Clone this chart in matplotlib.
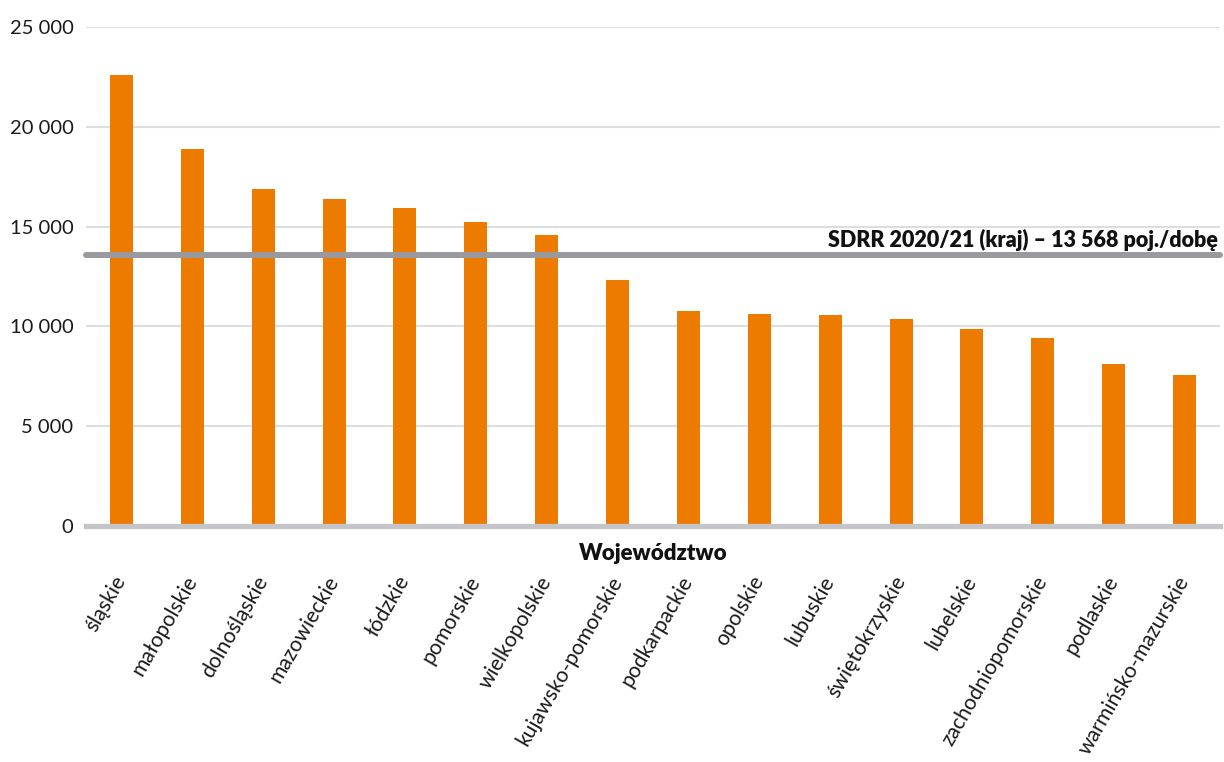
import matplotlib
matplotlib.use("Agg")
import matplotlib.pyplot as plt
from matplotlib.ticker import FuncFormatter

# średnia dobowa wielkość produkcji wg województw
wojewodztwa = [
    "śląskie", "małopolskie", "dolnośląskie", "mazowieckie", "łódzkie",
    "pomorskie", "wielkopolskie", "kujawsko-pomorskie", "podkarpackie",
    "opolskie", "lubuskie", "świętokrzyskie", "lubelskie",
    "zachodniopomorskie", "podlaskie", "warmińsko-mazurskie",
]
wartosci = [
    22600, 18900, 16900, 16400, 15950,
    15250, 14600, 12300, 10750,
    10600, 10550, 10350, 9850,
    9400, 8100, 7550,
]
srednia_kraj = 13568
y_ticks = [0, 5000, 10000, 15000, 20000, 25000]

plt.rcParams["font.family"] = ["Lato", "DejaVu Sans"]

fig = plt.figure(figsize=(12.24, 7.62), dpi=100)
ax = fig.add_axes([0.0703, 0.3097, 0.9264, 0.6549])

x = range(len(wojewodztwa))
ax.bar(x, wartosci, width=0.325, color="#ED7B00", zorder=2)

ax.set_xlim(-0.5, len(wojewodztwa) - 0.5)
ax.set_ylim(0, 25000)
ax.set_yticks(y_ticks)
ax.yaxis.set_major_formatter(FuncFormatter(lambda v, p: f"{int(v):,}".replace(",", " ")))
ax.grid(axis="y", color="#DCDEDD", linewidth=1.5, zorder=1)
ax.tick_params(axis="y", length=0, pad=9, labelsize=14.5, labelcolor="#1a1a1a")

ax.set_xticks(list(x))
ax.set_xticklabels(wojewodztwa, rotation=60, ha="right", va="center",
                   rotation_mode="anchor", fontsize=15.2, color="#1a1a1a")
ax.tick_params(axis="x", length=0, pad=37)

for s in ax.spines.values():
    s.set_visible(False)

# linia zerowa i średnia krajowa
ax.axhline(0, color="#C4C5C8", linewidth=3.8, zorder=3, clip_on=False)
ax.axhline(srednia_kraj, color="#9A999E", linewidth=4.3, zorder=3,
           solid_capstyle="round", clip_on=False)
ax.text(0.998, srednia_kraj + 200, "SDRR 2020/21 (kraj) – 13 568 poj./dobę",
        transform=ax.get_yaxis_transform(), ha="right", va="bottom",
        fontsize=15.5, fontweight="heavy", color="#111111")

ax.text(0.5, -0.055, "Województwo", transform=ax.transAxes, ha="center",
        va="center", fontsize=16, fontweight="heavy", color="#111111")

fig.savefig("out.png", dpi=100)
